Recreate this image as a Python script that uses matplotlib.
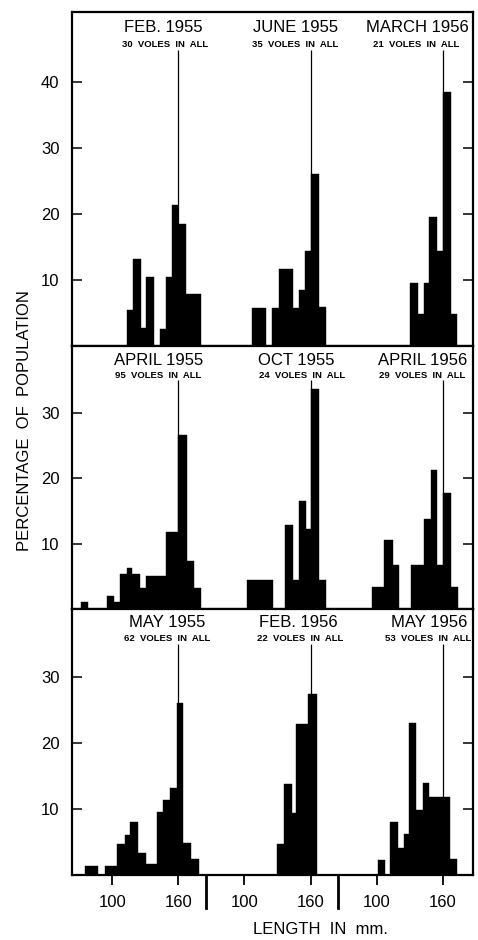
# Vole length histograms, three sampling dates per row

import numpy as np
import matplotlib.pyplot as plt
from matplotlib.transforms import blended_transform_factory

plt.rcParams['font.family'] = ['Liberation Sans', 'DejaVu Sans']

# each histogram in a row gets its own 120 mm strip on a shared x axis
offsets = [0, 120, 240]
ref_len = 160  # the thin vertical line in every panel

titles = [["FEB. 1955", "JUNE 1955", "MARCH 1956"],
          ["APRIL 1955", "OCT 1955", "APRIL 1956"],
          ["MAY 1955", "FEB. 1956", "MAY 1956"]]
voles = [[30, 35, 21],
         [95, 24, 29],
         [62, 22, 53]]

# bin edges (mm) and percentage of population
feb55_edges = [113, 118.5, 126.5, 130.5, 138, 143, 149, 154.5, 160, 167, 181]
feb55_pct = [5.5, 13.2, 2.7, 10.5, 0, 2.6, 10.5, 21.3, 18.5, 7.9]
jun55_edges = [107, 120, 125, 131, 144, 149.5, 155, 160, 167.5, 174]
jun55_pct = [5.7, 0, 5.7, 11.7, 5.7, 8.5, 14.4, 26.0, 5.9]
mar56_edges = [130, 137.5, 143, 148, 155, 160, 167.5, 173]
mar56_pct = [9.5, 4.9, 9.5, 19.5, 14.4, 38.5, 4.8]

apr55_edges = [71.5, 78, 95.5, 101.5, 107, 113, 118, 125.5, 131, 149, 160, 168, 174, 180.5]
apr55_pct = [1.0, 0, 2.0, 1.0, 5.3, 6.3, 5.3, 3.2, 5.1, 11.7, 26.6, 7.4, 3.2]
oct55_edges = [102, 126, 137, 144.5, 149.5, 156, 160.5, 167.5, 174]
oct55_pct = [4.5, 0, 12.9, 4.5, 16.5, 12.3, 33.6, 4.5]
apr56_edges = [95.5, 107, 114.5, 120.5, 131, 143, 149, 155, 160, 167.5, 173.5]
apr56_pct = [3.4, 10.6, 6.8, 0, 6.8, 13.7, 21.2, 6.8, 17.7, 3.4]

may55_edges = [75.5, 87.5, 93.5, 104.5, 111.5, 116.5, 123.5, 130.5, 141, 146.5,
               152.5, 158.5, 164.5, 171.5, 179]
may55_pct = [1.3, 0, 1.3, 4.7, 6.1, 8.1, 3.3, 1.7, 9.5, 11.3, 13.2, 26.0, 4.8, 2.4]
feb56_edges = [130, 135.5, 143, 147, 158, 165.5]
feb56_pct = [4.7, 13.8, 9.4, 22.9, 27.4]
may56_edges = [101, 108, 112.5, 119, 124.5, 129.5, 136, 142, 148, 166.5, 173]
may56_pct = [2.3, 0, 8.0, 4.1, 6.2, 23.1, 9.8, 13.9, 11.8, 2.5]

rows = [[(feb55_edges, feb55_pct), (jun55_edges, jun55_pct), (mar56_edges, mar56_pct)],
        [(apr55_edges, apr55_pct), (oct55_edges, oct55_pct), (apr56_edges, apr56_pct)],
        [(may55_edges, may55_pct), (feb56_edges, feb56_pct), (may56_edges, may56_pct)]]

# layout (figure fractions) and per-row settings
row_boxes = [(0.6319, 0.3553), (0.3521, 0.2798), (0.0691, 0.2830)]
row_ylim = [50.6, 40.2, 40.3]
row_yticks = [[10, 20, 30, 40], [10, 20, 30], [10, 20, 30]]
line_tops = [44.8, 35.0, 35.0]
title_x = [[146, 146, 137], [142, 147, 142], [149.5, 149, 147.5]]
sub_x = [[148, 146, 136], [142, 152, 141.5], [150, 151, 147]]
title_y = [0.955, 0.944, 0.948]
sub_y = [0.904, 0.886, 0.889]

fig = plt.figure(figsize=(4.78, 9.40), dpi=100)
left, width = 72 / 478, 401 / 478

axes = []
for r in range(3):
    bottom, height = row_boxes[r]
    ax = fig.add_axes([left, bottom, width, height])
    axes.append(ax)
    for k in range(3):
        edges, pct = rows[r][k]
        edges = np.array(edges) + offsets[k]
        ax.bar(edges[:-1], pct, width=np.diff(edges), align='edge',
               color='black', edgecolor='black', linewidth=0.3)
        ax.vlines(ref_len + offsets[k], 0, line_tops[r], color='black', lw=0.9)
        ax.text(title_x[r][k] + offsets[k], title_y[r], titles[r][k],
                transform=blended_transform_factory(ax.transData, ax.transAxes),
                ha='center', va='center', fontsize=12)
        ax.text(sub_x[r][k] + offsets[k], sub_y[r], f"{voles[r][k]}  VOLES  IN  ALL",
                transform=blended_transform_factory(ax.transData, ax.transAxes),
                ha='center', va='center', fontsize=6.8, fontweight='bold')

    ax.set_xlim(63.5, 427.5)
    ax.set_ylim(0, row_ylim[r])
    ax.set_yticks(row_yticks[r])
    ax.tick_params(axis='y', direction='in', length=7.5, width=1.1,
                   right=True, labelright=False, labelsize=12, pad=9)
    for s in ax.spines.values():
        s.set_linewidth(1.6)
    if r < 2:
        ax.set_xticks([])

# bottom axis: 100 and 160 for each strip, with long separators between strips
ax = axes[2]
ax.set_xticks([100 + o for o in offsets] + [160 + o for o in offsets])
ax.set_xticklabels(['100'] * 3 + ['160'] * 3)
ax.tick_params(axis='x', direction='out', length=7.5, width=1.3, labelsize=12, pad=7)
trans = blended_transform_factory(ax.transData, ax.transAxes)
for xs in [185, 305]:
    ax.plot([xs, xs], [0, -0.125], transform=trans, color='black', lw=2, clip_on=False)

fig.text(25 / 478, 1 - 421 / 940, "PERCENTAGE  OF  POPULATION", rotation=90,
         ha='center', va='center', fontsize=12)
fig.text(320 / 478, 1 - 929 / 940, "LENGTH  IN  mm.", ha='center', va='center', fontsize=12)

fig.savefig('out.png', dpi=100, facecolor='white')
